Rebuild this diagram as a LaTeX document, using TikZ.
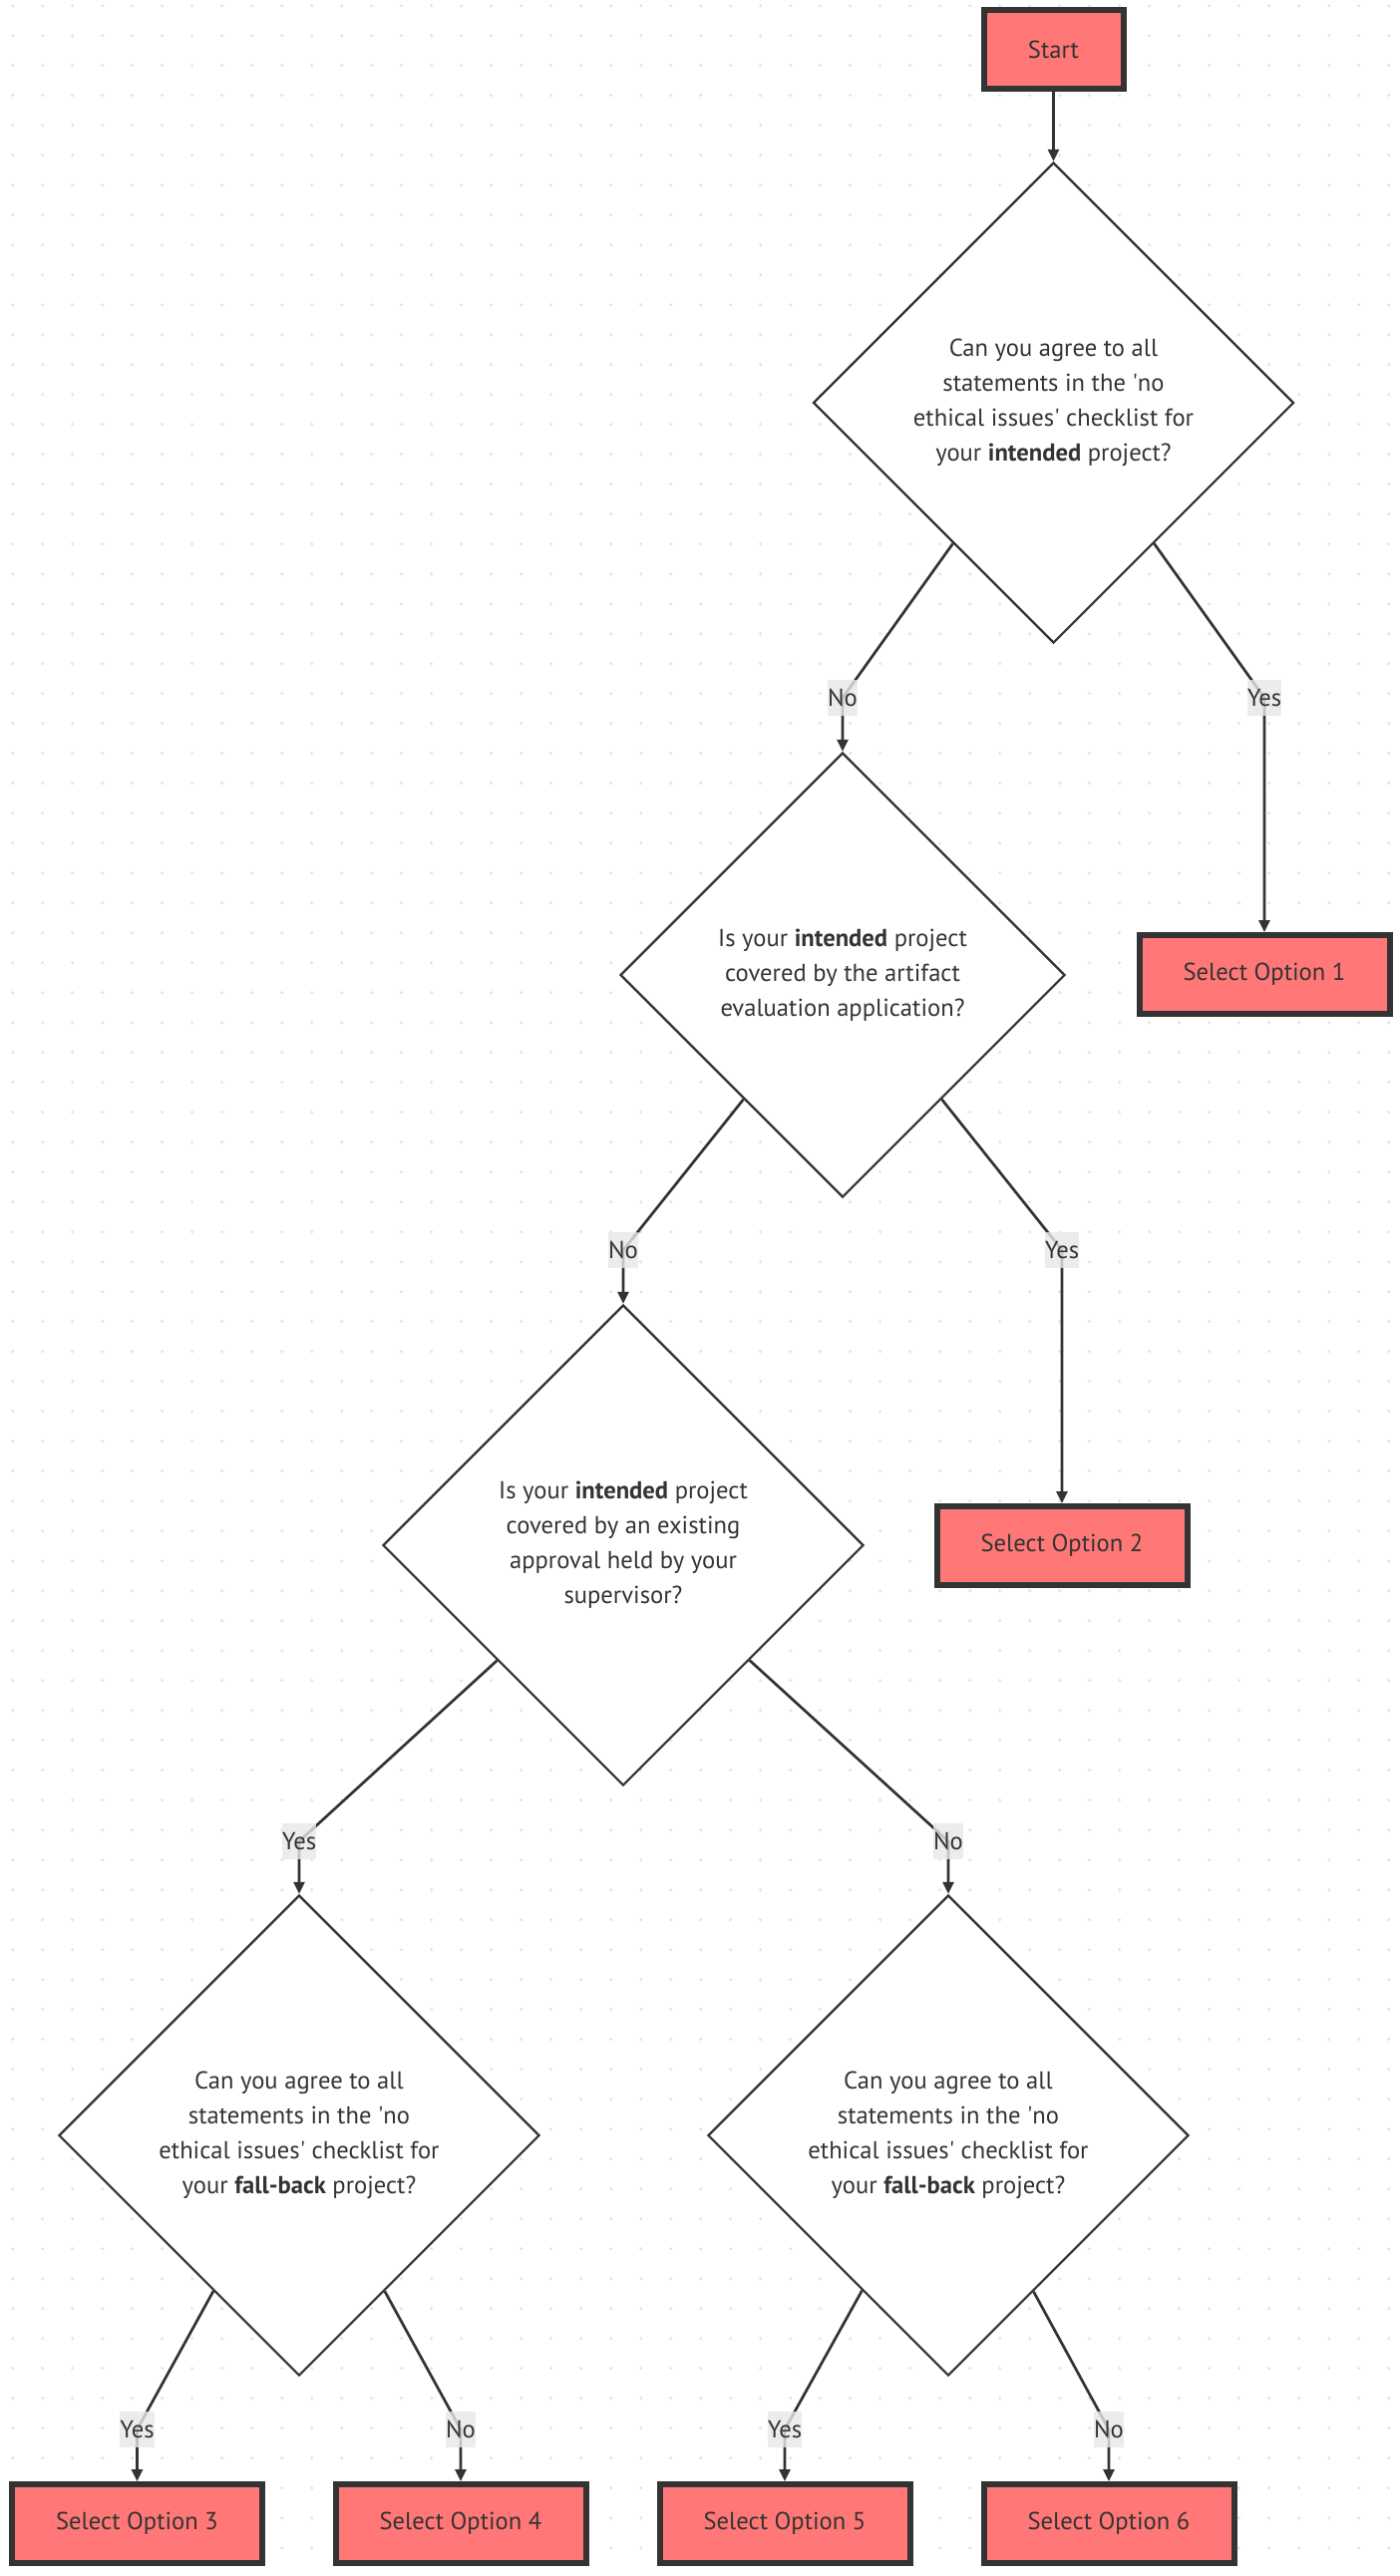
\documentclass[tikz,border=0pt]{standalone}
\usepackage{fontspec}
\setmainfont{PT Sans}
\usetikzlibrary{shapes.geometric,arrows.meta}
\definecolor{ink}{HTML}{333333}
\definecolor{boxfill}{HTML}{FF7777}
\definecolor{dotc}{HTML}{E4E4E4}
\definecolor{lblfill}{HTML}{E8E8E8}
\pgfdeclarelayer{bg}
\pgfdeclarelayer{edgelayer}
\pgfsetlayers{bg,edgelayer,main}
\begin{document}
\begin{tikzpicture}[x=1pt,y=-1pt,
  font=\fontsize{24.6}{35}\selectfont, text=ink,
  optbox/.style={draw=ink, line width=6pt, fill=boxfill, minimum width=251pt, minimum height=79pt, inner sep=0pt},
  decision/.style={diamond, draw=ink, line width=2.2pt, fill=white, aspect=1, inner sep=0pt, minimum width=#1, minimum height=#1, align=center},
  decision/.default=482pt,
  lbl/.style={fill=lblfill, fill opacity=0.8, text opacity=1, inner sep=0pt, minimum height=36pt},
  edge/.style={draw=ink, line width=2.7pt, -{Triangle[length=12pt,width=11pt]}}
]
\useasboundingbox (0,0) rectangle (1404,2584);
\begin{pgfonlayer}{bg}
  \fill[white] (0,0) rectangle (1404,2584);
  \foreach \i in {0,...,46} {
    \foreach \j in {0,...,86} {
      \fill[dotc] (12.7+30*\i, 5.7+30*\j) circle[radius=1.7pt];
    }
  }
\end{pgfonlayer}

% main nodes
\node[optbox, minimum width=140pt] (start) at (1056.5,49.5) {Start};
\node[decision] (d1) at (1056.5,404) {Can you agree to all\\statements in the \textquotesingle no\\ethical issues\textquotesingle\ checklist for\\your \textbf{intended} project?};
\node[decision=446pt] (d2) at (845,978) {Is your \textbf{intended} project\\covered by the artifact\\evaluation application?};
\node[optbox] (o1) at (1268,977.5) {Select Option 1};
\node[decision] (d3) at (625,1550) {Is your \textbf{intended} project\\covered by an existing\\approval held by your\\supervisor?};
\node[optbox] (o2) at (1065,1550.5) {Select Option 2};
\node[decision] (d4) at (300,2142) {Can you agree to all\\statements in the \textquotesingle no\\ethical issues\textquotesingle\ checklist for\\your \textbf{fall-back} project?};
\node[decision] (d5) at (951,2142) {Can you agree to all\\statements in the \textquotesingle no\\ethical issues\textquotesingle\ checklist for\\your \textbf{fall-back} project?};
\node[optbox] (o3) at (137.5,2531.5) {Select Option 3};
\node[optbox] (o4) at (462,2531.5) {Select Option 4};
\node[optbox] (o5) at (787,2531.5) {Select Option 5};
\node[optbox] (o6) at (1112,2531.5) {Select Option 6};

% edge labels
\node[lbl] (l1) at (845,700) {No};
\node[lbl] (l2) at (1268,700) {Yes};
\node[lbl] (l3) at (625,1254) {No};
\node[lbl] (l4) at (1065,1254) {Yes};
\node[lbl] (l5) at (300,1847) {Yes};
\node[lbl] (l6) at (951,1847) {No};
\node[lbl] (l7) at (137.5,2437) {Yes};
\node[lbl] (l8) at (462,2437) {No};
\node[lbl] (l9) at (787,2437) {Yes};
\node[lbl] (l10) at (1112,2437) {No};

% connectors
\begin{pgfonlayer}{edgelayer}
  \draw[edge] (start) -- (d1);
  \draw[edge] (d1) -- (l1.center) -- (d2);
  \draw[edge] (d1) -- (l2.center) -- (o1);
  \draw[edge] (d2) -- (l3.center) -- (d3);
  \draw[edge] (d2) -- (l4.center) -- (o2);
  \draw[edge] (d3) -- (l5.center) -- (d4);
  \draw[edge] (d3) -- (l6.center) -- (d5);
  \draw[edge] (d4) -- (l7.center) -- (o3);
  \draw[edge] (d4) -- (l8.center) -- (o4);
  \draw[edge] (d5) -- (l9.center) -- (o5);
  \draw[edge] (d5) -- (l10.center) -- (o6);
\end{pgfonlayer}
\end{tikzpicture}
\end{document}
